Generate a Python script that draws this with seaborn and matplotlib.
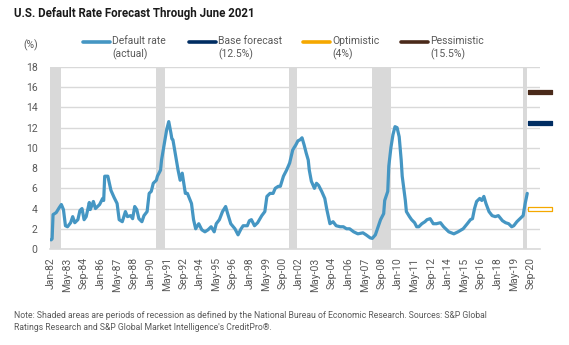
import matplotlib
matplotlib.use("Agg")
import matplotlib.pyplot as plt
import matplotlib.dates as mdates
from matplotlib.lines import Line2D
import pandas as pd
import seaborn as sns

# U.S. speculative-grade default rate, monthly readings (%)
dates = [
    "1982-01", "1982-02", "1982-03", "1982-06", "1982-09", "1982-11", "1983-01", "1983-03",
    "1983-05", "1983-08", "1983-10", "1983-12", "1984-03", "1984-05", "1984-07", "1984-09",
    "1984-11", "1985-02", "1985-03", "1985-06", "1985-08", "1985-12", "1986-03", "1986-04",
    "1986-05", "1986-08", "1986-11", "1987-02", "1987-05", "1987-07", "1987-10", "1988-01",
    "1988-03", "1988-06", "1988-08", "1988-10", "1988-12", "1989-02", "1989-05", "1989-07",
    "1989-10", "1989-12", "1990-02", "1990-04", "1990-07", "1990-08", "1990-11", "1990-12",
    "1991-02", "1991-03", "1991-05", "1991-07", "1991-09", "1991-10", "1991-11", "1992-01",
    "1992-04", "1992-06", "1992-08", "1992-11", "1993-01", "1993-05", "1993-07", "1993-09",
    "1993-12", "1994-03", "1994-06", "1994-09", "1994-12", "1995-03", "1995-05", "1995-08",
    "1995-11", "1996-02", "1996-04", "1996-07", "1996-11", "1997-02", "1997-05", "1997-07",
    "1997-11", "1998-01", "1998-03", "1998-06", "1998-09", "1999-01", "1999-04", "1999-06",
    "1999-09", "1999-12", "2000-02", "2000-05", "2000-07", "2000-10", "2001-01", "2001-04",
    "2001-07", "2001-10", "2001-12", "2002-02", "2002-04", "2002-06", "2002-08", "2002-10",
    "2002-11", "2003-01", "2003-04", "2003-06", "2003-08", "2003-11", "2004-02", "2004-04",
    "2004-07", "2004-10", "2005-01", "2005-05", "2005-08", "2005-11", "2006-02", "2006-06",
    "2006-10", "2007-03", "2007-06", "2007-10", "2007-12", "2008-03", "2008-05", "2008-08",
    "2008-11", "2008-12", "2009-03", "2009-04", "2009-06", "2009-08", "2009-10", "2009-12",
    "2010-02", "2010-04", "2010-05", "2010-08", "2010-09", "2010-12", "2011-02", "2011-05",
    "2011-07", "2011-09", "2011-12", "2012-03", "2012-05", "2012-08", "2012-11", "2013-02",
    "2013-06", "2013-09", "2014-02", "2014-07", "2014-11", "2015-04", "2015-08", "2015-11",
    "2016-01", "2016-03", "2016-05", "2016-08", "2016-10", "2016-12", "2017-02", "2017-05",
    "2017-08", "2017-11", "2018-02", "2018-06", "2018-09", "2018-12", "2019-03", "2019-05",
    "2019-08", "2019-11", "2020-02", "2020-04", "2020-06",
]
default_rate = [
    0.9, 1.0, 3.4, 3.6, 4.1, 4.4, 3.9, 2.3,
    2.2, 2.6, 3.2, 2.6, 2.9, 3.8, 4.0, 2.9,
    3.2, 4.6, 3.9, 4.7, 4.0, 4.4, 5.0, 4.8,
    7.2, 7.2, 5.8, 5.1, 4.5, 2.9, 2.7, 3.7,
    3.2, 3.3, 3.0, 4.2, 3.9, 3.0, 2.7, 3.3,
    3.7, 5.5, 5.7, 6.5, 6.8, 7.2, 7.8, 8.8,
    10.0, 10.6, 11.8, 12.6, 11.5, 10.9, 10.8, 9.6,
    7.8, 6.8, 7.5, 5.5, 5.5, 4.5, 2.9, 2.0,
    2.5, 1.9, 1.7, 1.9, 2.2, 1.7, 2.5, 2.9,
    3.7, 4.2, 3.5, 2.5, 2.0, 1.4, 2.0, 2.3,
    2.3, 2.8, 2.9, 2.3, 2.6, 3.3, 3.7, 5.2,
    5.5, 5.5, 6.0, 6.2, 6.2, 7.2, 7.8, 8.5,
    9.8, 10.3, 10.7, 10.8, 11.0, 10.3, 9.5, 8.8,
    7.8, 6.7, 6.0, 6.5, 6.3, 5.7, 5.0, 3.9,
    2.5, 2.7, 2.3, 2.2, 2.2, 2.0, 2.0, 1.7,
    1.5, 1.6, 1.4, 1.1, 1.05, 1.4, 2.0, 2.9,
    3.5, 4.8, 5.7, 8.2, 10.0, 11.3, 12.1, 12.0,
    11.1, 8.8, 7.2, 4.8, 3.7, 3.2, 2.9, 2.6,
    2.2, 2.2, 2.5, 2.7, 2.9, 3.0, 2.5, 2.5,
    2.6, 2.2, 1.7, 1.5, 1.7, 2.0, 2.5, 2.9,
    3.0, 4.0, 4.7, 5.0, 4.8, 5.2, 4.5, 3.7,
    3.3, 3.2, 3.3, 2.8, 2.6, 2.5, 2.2, 2.3,
    2.7, 3.0, 3.3, 4.5, 5.5,
]

# NBER recessions (start, end)
recessions = [
    ("1981-07", "1982-11"), ("1990-07", "1991-03"), ("2001-03", "2001-11"),
    ("2007-12", "2009-06"), ("2020-02", "2020-06"),
]

# June 2021 forecast scenarios
forecast_date = "2021-06"
scenario_names = ["Base forecast\n(12.5%)", "Optimistic\n(4%)", "Pessimistic\n(15.5%)"]
scenario_values = [12.5, 4.0, 15.5]
scenario_colors = ["#002D62", "#F5A800", "#4A2A1A"]

LINE_BLUE = "#4596C3"
GRID = "#D9D9D9"
TEXT_GRAY = "#595959"

sns.set_theme(style="white")
plt.rcParams["font.family"] = ["Roboto", "DejaVu Sans"]

W, H = 569, 345
fig = plt.figure(figsize=(W / 100, H / 100), dpi=100)
ax = fig.add_axes([50 / W, 1 - 249 / H, 490 / W, (249 - 67) / H])

df = pd.DataFrame({"date": pd.to_datetime(dates), "rate": default_rate})

for start, end in recessions:
    ax.axvspan(pd.Timestamp(start), pd.Timestamp(end), color=GRID, lw=0, zorder=0)

sns.lineplot(data=df, x="date", y="rate", ax=ax, color=LINE_BLUE, lw=2.3,
             solid_joinstyle="round", zorder=3)

# Forecast marks: short horizontal bars at the forecast date
bar = [(-1, -0.16), (1, -0.16), (1, 0.16), (-1, 0.16), (-1, -0.16)]
fdate = pd.Timestamp(forecast_date)
for val, col, name in zip(scenario_values, scenario_colors, scenario_names):
    face = "white" if name.startswith("Optimistic") else col
    ax.plot([fdate], [val], marker=bar, markersize=17, markerfacecolor=face,
            markeredgecolor=col, markeredgewidth=0.9, ls="none", clip_on=False, zorder=4)

ax.set_ylim(0, 18)
ax.set_yticks(range(0, 19, 2))
ax.set_xlim(pd.Timestamp("1981-12-01"), pd.Timestamp("2021-06-12"))
ticks = pd.date_range("1982-01-01", "2020-12-01", freq="16MS")
ax.set_xticks(ticks)
ax.xaxis.set_major_formatter(mdates.DateFormatter("%b-%y"))
ax.tick_params(axis="x", rotation=90, labelsize=7.5, colors=TEXT_GRAY, length=0, pad=6)
ax.tick_params(axis="y", labelsize=7.5, colors=TEXT_GRAY, length=0, pad=9)
ax.grid(axis="y", color=GRID, lw=1)
ax.grid(axis="x", visible=False)
for side in ["top", "right", "left"]:
    ax.spines[side].set_visible(False)
ax.spines["bottom"].set_color(GRID)
ax.spines["bottom"].set_linewidth(1.2)
ax.set_xlabel("")
ax.set_ylabel("")

# Title, unit and legend
fig.text(14 / W, 1 - 13 / H, "U.S. Default Rate Forecast Through June 2021",
         fontsize=8.3, fontweight="bold", color="#1A1A1A", va="center", ha="left")
fig.text(23 / W, 1 - 45 / H, "(%)", fontsize=7.5, color=TEXT_GRAY, va="center", ha="left")

legend_items = [("Default rate\n(actual)", LINE_BLUE, 83)] + [
    (n, c, x) for n, c, x in zip(scenario_names, scenario_colors, [189, 303, 401])
]
for label, col, x0 in legend_items:
    y = 1 - 41.5 / H
    fig.add_artist(Line2D([x0 / W, (x0 + 27) / W], [y, y], color=col, lw=2.6,
                          transform=fig.transFigure))
    fig.text((x0 + 29) / W, 1 - 36 / H, label, fontsize=7.5, color=TEXT_GRAY,
             va="top", ha="left", linespacing=1.25)

fig.text(14 / W, 1 - 311 / H,
         "Note: Shaded areas are periods of recession as defined by the National Bureau of "
         "Economic Research. Sources: S&P Global\nRatings Research and S&P Global Market "
         "Intelligence's CreditPro®.",
         fontsize=6.2, color=TEXT_GRAY, va="top", ha="left", linespacing=1.45)

fig.savefig("out.png", dpi=100, facecolor="white")
